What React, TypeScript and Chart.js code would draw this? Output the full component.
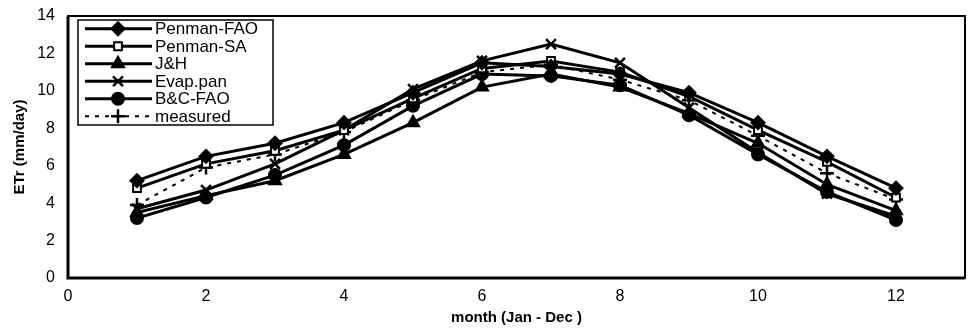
import React, { useEffect, useRef } from 'react';
import { Chart, registerables } from 'chart.js';
import { drawPoint } from 'chart.js/helpers';

Chart.register(...registerables);

const months = [1, 2, 3, 4, 5, 6, 7, 8, 9, 10, 11, 12];
const seriesNames = ['Penman-FAO', 'Penman-SA', 'J&H', 'Evap.pan', 'B&C-FAO', 'measured'];
const penmanFAO = [5.2, 6.5, 7.2, 8.3, 9.9, 11.5, 11.3, 10.9, 9.9, 8.3, 6.5, 4.8];
const penmanSA = [4.8, 6.1, 6.8, 7.9, 9.6, 11.2, 11.6, 11.0, 9.7, 7.9, 6.2, 4.3];
const jh = [3.5, 4.4, 5.2, 6.6, 8.3, 10.2, 10.9, 10.2, 8.8, 7.2, 5.0, 3.6];
const evapPan = [3.7, 4.7, 6.1, 7.9, 10.1, 11.6, 12.5, 11.5, 9.1, 6.7, 4.5, 3.3];
const bcFAO = [3.2, 4.3, 5.5, 7.1, 9.2, 10.9, 10.8, 10.3, 8.7, 6.6, 4.6, 3.1];
const measured = [3.9, 5.9, 6.6, 7.8, 9.5, 11.0, 11.4, 10.6, 9.5, 7.6, 5.6, 4.2];
const xTicks = [0, 2, 4, 6, 8, 10, 12];

const FONT = '"Liberation Sans", Arial, sans-serif';

const frameAndLegend = {
  id: 'frameAndLegend',
  afterDatasetsDraw(chart: any) {
    const ctx = chart.ctx;
    const a = chart.chartArea;
    ctx.save();
    ctx.strokeStyle = '#000';
    ctx.lineWidth = 2;
    ctx.strokeRect(a.left, a.top, a.right - a.left, a.bottom - a.top);
    ctx.lineWidth = 3;
    ctx.beginPath();
    ctx.moveTo(a.left, a.top);
    ctx.lineTo(a.left, a.bottom);
    ctx.lineTo(a.right, a.bottom);
    ctx.stroke();

    const bx = 78, by = 20, bw = 195, bh = 105;
    ctx.fillStyle = '#fff';
    ctx.fillRect(bx, by, bw, bh);
    ctx.lineWidth = 1.5;
    ctx.strokeRect(bx, by, bw, bh);
    const rowH = bh / 6;
    chart.data.datasets.forEach((ds: any, i: number) => {
      const cy = by + rowH / 2 + i * rowH;
      ctx.save();
      ctx.strokeStyle = '#000';
      ctx.lineWidth = ds.borderWidth;
      ctx.setLineDash(ds.borderDash || []);
      ctx.beginPath();
      ctx.moveTo(85, cy);
      ctx.lineTo(152, cy);
      ctx.stroke();
      ctx.restore();
      ctx.save();
      ctx.fillStyle = ds.pointBackgroundColor;
      ctx.strokeStyle = '#000';
      ctx.lineWidth = ds.pointBorderWidth;
      drawPoint(ctx, { pointStyle: ds.pointStyle, radius: ds.pointRadius, rotation: 0, borderWidth: ds.pointBorderWidth }, 118, cy);
      ctx.restore();
      ctx.fillStyle = '#000';
      ctx.font = `17px ${FONT}`;
      ctx.textBaseline = 'middle';
      ctx.textAlign = 'left';
      ctx.fillText(ds.label, 155, cy + 1);
    });
    ctx.restore();
  },
};

export default function App() {
  const ref = useRef<HTMLCanvasElement | null>(null);

  useEffect(() => {
    document.body.style.margin = '0';
    const canvas = ref.current;
    if (!canvas) return;
    const mk = (label: string, data: number[], style: string, radius: number, fill: string, extra: any = {}) => ({
      label,
      data: months.map((m, i) => ({ x: m, y: data[i] })),
      borderColor: '#000',
      borderWidth: 3,
      pointStyle: style,
      pointRadius: radius,
      pointBackgroundColor: fill,
      pointBorderColor: '#000',
      pointBorderWidth: 2,
      tension: 0,
      fill: false,
      ...extra,
    });
    const chart = new Chart(canvas, {
      type: 'line',
      data: {
        datasets: [
          mk(seriesNames[0], penmanFAO, 'rectRot', 6.5, '#000'),
          mk(seriesNames[1], penmanSA, 'rect', 5.5, '#fff'),
          mk(seriesNames[2], jh, 'triangle', 7, '#000'),
          mk(seriesNames[3], evapPan, 'crossRot', 7, '#000', { pointBorderWidth: 2.5 }),
          mk(seriesNames[4], bcFAO, 'circle', 6, '#000'),
          mk(seriesNames[5], measured, 'cross', 7, '#000', { borderWidth: 2, borderDash: [4, 6], pointBorderWidth: 2.5 }),
        ],
      },
      options: {
        responsive: true,
        maintainAspectRatio: false,
        animation: false,
        layout: { autoPadding: false, padding: { left: 0, top: 16, right: 3, bottom: 0 } },
        plugins: {
          legend: { display: false },
          tooltip: { enabled: false },
        },
        scales: {
          x: {
            type: 'linear',
            min: 0,
            max: 13,
            afterBuildTicks: (scale: any) => {
              scale.ticks = xTicks.map((v) => ({ value: v }));
            },
            afterFit: (scale: any) => {
              scale.height = 56;
              scale.paddingLeft = 0;
              scale.paddingRight = 0;
            },
            grid: { display: false, drawTicks: false },
            border: { display: false },
            ticks: { color: '#000', font: { family: FONT, size: 16 }, padding: 9, maxRotation: 0 },
            title: {
              display: true,
              text: 'month (Jan - Dec )',
              color: '#000',
              font: { family: FONT, size: 15, weight: 'bold' },
              padding: { top: 0, bottom: 7 },
            },
          },
          y: {
            min: 0,
            max: 14,
            afterFit: (scale: any) => {
              scale.width = 68;
              scale.paddingTop = 0;
              scale.paddingBottom = 0;
            },
            grid: { display: false, drawTicks: false },
            border: { display: false },
            ticks: { stepSize: 2, color: '#000', font: { family: FONT, size: 16 }, padding: 13 },
            title: {
              display: true,
              text: 'ETr (mm/day)',
              color: '#000',
              font: { family: FONT, size: 15, weight: 'bold' },
              padding: { top: 11, bottom: 0 },
            },
          },
        },
      },
      plugins: [frameAndLegend],
    });
    return () => chart.destroy();
  }, []);

  return (
    <div style={{ position: 'absolute', left: 0, top: 0, width: 968, height: 334 }}>
      <canvas ref={ref} />
    </div>
  );
}
